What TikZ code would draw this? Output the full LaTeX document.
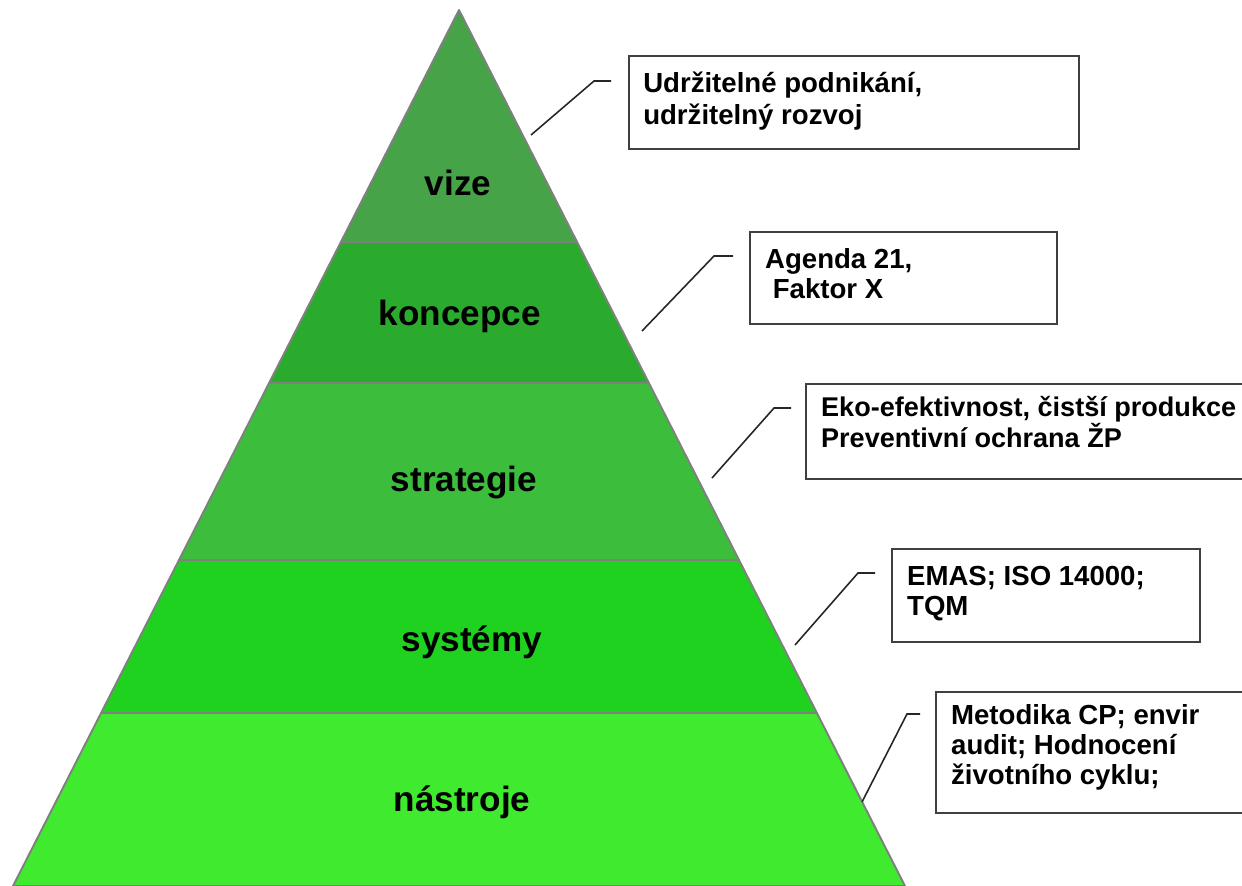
\documentclass[tikz,border=0pt]{standalone}
\usepackage{fontspec}
\setmainfont{Liberation Sans}
\usetikzlibrary{positioning}

\definecolor{vizegreen}{RGB}{70,163,72}
\definecolor{koncgreen}{RGB}{43,171,45}
\definecolor{stratgreen}{RGB}{60,190,60}
\definecolor{sysgreen}{RGB}{31,210,31}
\definecolor{nastrgreen}{RGB}{64,234,46}

\begin{document}
\begin{tikzpicture}[x=0.02cm, y=-0.02cm,
    layer/.style={draw=gray, line width=1.1pt, line join=round},
    levelname/.style={font=\fontsize{20}{24}\selectfont\bfseries, anchor=base},
    callout/.style={draw=black!75, line width=1.1pt, anchor=north west, inner sep=0pt},
    boxtext/.style={font=\fontsize{15.7}{17.1}\selectfont\bfseries, align=left, inner sep=0pt},
    lead/.style={draw=black!85, line width=0.9pt}]
  \useasboundingbox (0,0) rectangle (1242,886);
  \clip (0,0) rectangle (1242,886);

  % pyramid, top to bottom
  \filldraw[layer, fill=vizegreen] (459,10) -- (577.1,242) -- (340.9,242) -- cycle;
  \filldraw[layer, fill=koncgreen] (340.9,242) -- (577.1,242) -- (648.9,383) -- (269.1,383) -- cycle;
  \filldraw[layer, fill=stratgreen] (269.1,383) -- (648.9,383) -- (739,560) -- (179,560) -- cycle;
  \filldraw[layer, fill=sysgreen] (179,560) -- (739,560) -- (816.9,713) -- (101.1,713) -- cycle;
  \filldraw[layer, fill=nastrgreen] (101.1,713) -- (816.9,713) -- (905,886) -- (13,886) -- cycle;

  \node[levelname] (vize) at (458,195) {vize};
  \node[levelname] (koncepce) at (460,325) {koncepce};
  \node[levelname] (strategie) at (464,491) {strategie};
  \node[levelname] (systemy) at (472,651) {systémy};
  \node[levelname] (nastroje) at (462,811) {nástroje};

  % callouts
  \node[callout, minimum width=9cm, minimum height=1.86cm] (b1) at (628,55) {};
  \node[boxtext, font=\fontsize{15.7}{18.2}\selectfont\bfseries,
        below right=9.4pt and 8.5pt of b1.north west] (txt1)
       {Udržitelné podnikání,\\udržitelný rozvoj};
  \node[callout, minimum width=6.14cm, minimum height=1.84cm] (b2) at (749,231) {};
  \node[boxtext, below right=10pt and 9pt of b2.north west] (txt2)
       {Agenda 21,\\\ Faktor X};
  \node[callout, minimum width=9.2cm, minimum height=1.9cm] (b3) at (805,383) {};
  \node[boxtext, font=\fontsize{15.4}{16}\selectfont\bfseries,
        below right=7.3pt and 9pt of b3.north west] (txt3)
       {Eko-efektivnost, čistší produkce\\Preventivní ochrana ŽP};
  \node[callout, minimum width=6.16cm, minimum height=1.86cm] (b4) at (891,548) {};
  \node[boxtext, below right=10pt and 9pt of b4.north west] (txt4)
       {EMAS; ISO 14000;\\TQM};
  \node[callout, minimum width=6.6cm, minimum height=2.42cm] (b5) at (935,691) {};
  \node[boxtext, below right=7.7pt and 9pt of b5.north west] (txt5)
       {Metodika CP; envir\\audit; Hodnocení\\životního cyklu;};

  \coordinate (e1) at (531,135); \coordinate (k1) at (594,81); \coordinate (h1) at (611,81);
  \coordinate (e2) at (642,331); \coordinate (k2) at (714,256); \coordinate (h2) at (733,256);
  \coordinate (e3) at (712,478); \coordinate (k3) at (774,408); \coordinate (h3) at (791,408);
  \coordinate (e4) at (795,645); \coordinate (k4) at (858,573); \coordinate (h4) at (875,573);
  \coordinate (e5) at (862,802); \coordinate (k5) at (907,714); \coordinate (h5) at (920,714);
  \draw[lead] (e1) -- (k1) -- (h1);
  \draw[lead] (e2) -- (k2) -- (h2);
  \draw[lead] (e3) -- (k3) -- (h3);
  \draw[lead] (e4) -- (k4) -- (h4);
  \draw[lead] (e5) -- (k5) -- (h5);
\end{tikzpicture}
\end{document}
